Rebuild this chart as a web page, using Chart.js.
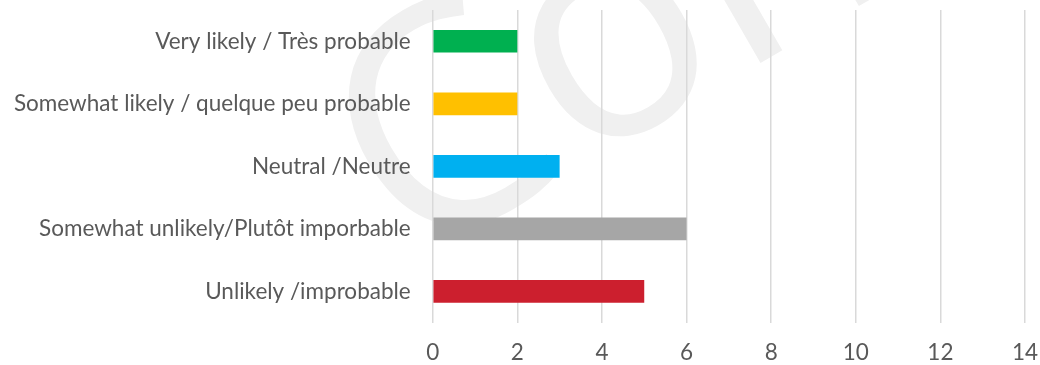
<!DOCTYPE html>
<html>
<head>
<meta charset="utf-8">
<script src="https://cdn.jsdelivr.net/npm/chart.js@4"></script>
<style>
  html, body { margin: 0; padding: 0; background: #ffffff; }
  #wrap { width: 1040px; height: 365px; position: relative; }
</style>
</head>
<body>
<div id="wrap"><canvas id="likelyChart"></canvas></div>
<script>
// Survey answers, top to bottom
const answers = [
  'Very likely / Très probable',
  'Somewhat likely / quelque peu probable',
  'Neutral /Neutre',
  'Somewhat unlikely/Plutôt imporbable',
  'Unlikely /improbable'
];
const counts = [2, 2, 3, 6, 5];
const barColors = ['#00B050', '#FFC000', '#00B0F0', '#A6A6A6', '#CC1F2E'];
const xTicks = [0, 2, 4, 6, 8, 10, 12, 14];

// faint rotated word behind the plot
const watermark = {
  id: 'watermark',
  beforeDraw(chart) {
    const ctx = chart.ctx;
    ctx.save();
    ctx.translate(407, 267);
    ctx.rotate(-30 * Math.PI / 180);
    ctx.font = '310px "Open Sans"';
    ctx.fillStyle = '#f0f0f0';
    ctx.textBaseline = 'alphabetic';
    ctx.fillText('Confidential', 0, 0);
    ctx.restore();
  }
};

// no extra room for overhanging tick labels
function noPadding(scale) {
  scale.paddingTop = 0;
  scale.paddingBottom = 0;
  scale.paddingLeft = 0;
  scale.paddingRight = 0;
}

const ctx = document.getElementById('likelyChart').getContext('2d');
const likelyChart = new Chart(ctx, {
  type: 'bar',
  data: {
    labels: answers,
    datasets: [{
      data: counts,
      backgroundColor: barColors,
      barPercentage: 0.363,
      categoryPercentage: 1.0
    }]
  },
  options: {
    indexAxis: 'y',
    responsive: true,
    maintainAspectRatio: false,
    animation: false,
    layout: { padding: { top: 10, right: 15, left: 0, bottom: 0 } },
    plugins: {
      legend: { display: false },
      tooltip: { enabled: false }
    },
    scales: {
      x: {
        min: 0,
        max: 14,
        afterBuildTicks: (scale) => {
          scale.ticks = xTicks.map(v => ({ value: v }));
        },
        afterFit: (scale) => {
          scale.height = 365 - 322.6;
          noPadding(scale);
        },
        grid: { color: '#d9d9d9', lineWidth: 1.5, drawTicks: false },
        border: { display: false },
        ticks: {
          color: '#595959',
          padding: 17,
          font: { family: 'Lato', size: 22.5 }
        }
      },
      y: {
        afterFit: (scale) => {
          scale.width = 432.7;
          noPadding(scale);
        },
        grid: { display: false, drawTicks: false },
        border: { display: false },
        ticks: {
          color: '#595959',
          padding: 22,
          font: { family: 'Lato', size: 22.5 }
        }
      }
    }
  },
  plugins: [watermark]
});
</script>
</body>
</html>
